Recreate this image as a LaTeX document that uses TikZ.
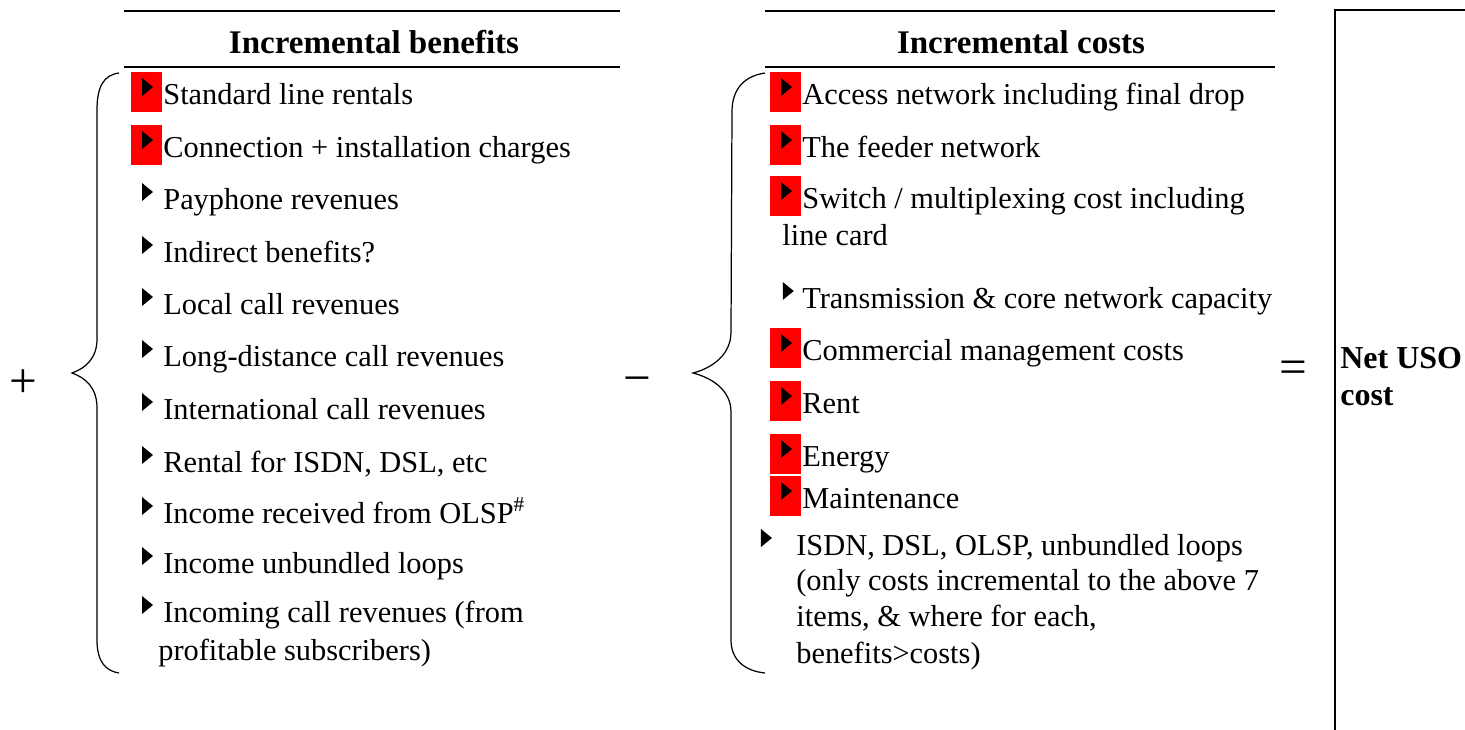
\documentclass[tikz,border=0pt]{standalone}
\usepackage{fontspec}
\setmainfont{Liberation Serif}
\colorlet{bulletRed}{red}
\colorlet{ink}{black}

\begin{document}
\begin{tikzpicture}[
  x=0.02cm,
  y=-0.02cm,
  item/.style={
    anchor=base west,
    inner sep=0pt,
    text=ink,
    font=\fontsize{17.3}{21}\selectfont,
  },
  head/.style={
    inner sep=0pt,
    text=ink,
    font=\bfseries\fontsize{18.8}{22}\selectfont,
  },
  sign/.style={
    inner sep=0pt,
    text=ink,
    font=\fontsize{28}{30}\selectfont,
  },
  rule/.style={
    line width=1.4pt,
    draw=ink,
  },
  brace/.style={
    line width=0.7pt,
    draw=ink,
  },
  bul/.pic={
    \fill[ink] (-21,-26) -- (-10,-17) -- (-21,-8) -- cycle;
  },
  redbul/.pic={
    \fill[bulletRed] (-32,-32) rectangle (-1,8);
    \fill[ink] (-21,-26) -- (-10,-17) -- (-21,-8) -- cycle;
  }
]
\useasboundingbox (0,0) rectangle (1465,730);

\node[head] (hb) at (374,42) {Incremental benefits};
\node[head] (hc) at (1021,42) {Incremental costs};
\draw[rule] (124,11) -- (620,11);
\draw[rule] (124,67) -- (620,67);
\draw[rule] (765,11) -- (1275,11);
\draw[rule] (765,67) -- (1275,67);
\draw[rule] (1465,10) -- (1335,10) -- (1335,730);

\node[sign] (plus) at (23,384) {+};
\node[sign] (minus) at (637,386) {−};
\node[sign] (equals) at (1293,372) {=};

\draw[brace] (119,73) .. controls (104,75) and (97,86) .. (97,110) -- (97,339)
  .. controls (97,358) and (86,368) .. (72,373)
  .. controls (86,378) and (97,388) .. (97,408) -- (97,640)
  .. controls (97,662) and (106,671) .. (119,673);
\draw[brace] (765,73) .. controls (745,76) and (732,88) .. (732,112) -- (731,332)
  .. controls (731,355) and (712,368) .. (693,373)
  .. controls (712,378) and (731,390) .. (731,412) -- (731,640)
  .. controls (731,660) and (745,671) .. (765,673);

\node[item] (b1) at (163,104) {Standard line rentals};
\node[item] (b2) at (163,157) {Connection + installation charges};
\node[item] (b3) at (163,209) {Payphone revenues};
\node[item] (b4) at (163,262) {Indirect benefits?};
\node[item] (b5) at (163,314) {Local call revenues};
\node[item] (b6) at (163,366) {Long-distance call revenues};
\node[item] (b7) at (163,419) {International call revenues};
\node[item] (b8) at (163,472) {Rental for ISDN, DSL, etc};
\node[item] (b9) at (163,523) {Income received from OLSP\textsuperscript{\#}};
\node[item] (b10) at (163,573) {Income unbundled loops};
\node[item] (b11) at (163,622) {Incoming call revenues (from};
\node[item] (b11x) at (158,660) {profitable subscribers)};
\pic at (b1.base west) {redbul};
\pic at (b2.base west) {redbul};
\pic at (b3.base west) {bul};
\pic at (b4.base west) {bul};
\pic at (b5.base west) {bul};
\pic at (b6.base west) {bul};
\pic at (b7.base west) {bul};
\pic at (b8.base west) {bul};
\pic at (b9.base west) {bul};
\pic at (b10.base west) {bul};
\pic at (b11.base west) {bul};

\node[item] (c1) at (802,104) {Access network including final drop};
\node[item] (c2) at (802,157) {The feeder network};
\node[item] (c3) at (802,208) {Switch / multiplexing cost including};
\node[item] (c3x) at (782,245) {line card};
\node[item] (c4) at (802,308) {Transmission \& core network capacity};
\node[item] (c5) at (802,360) {Commercial management costs};
\node[item] (c6) at (802,413) {Rent};
\node[item] (c7) at (802,466) {Energy};
\node[item] (c8) at (802,508) {Maintenance};
\node[item] (c9) at (796,555) {ISDN, DSL, OLSP, unbundled loops};
\node[item] (c9x) at (796,590) {(only costs incremental to the above 7};
\node[item] (c9y) at (796,626) {items, \& where for each,};
\node[item] (c9z) at (796,663) {benefits>costs)};
\pic at (c1.base west) {redbul};
\pic at (c2.base west) {redbul};
\pic at (c3.base west) {redbul};
\pic at ([xshift=1]c4.base west) {bul};
\pic at (c5.base west) {redbul};
\pic at (c6.base west) {redbul};
\pic at (c7.base west) {redbul};
\pic at (c8.base west) {redbul};
\pic at ([xshift=-8]c9.base west) {bul};

\node[head, anchor=base west, font=\bfseries\fontsize{18.2}{22}\selectfont] (net) at (1340,368) {Net USO};
\node[head, anchor=base west, font=\bfseries\fontsize{18.2}{22}\selectfont] (netx) at (1340,405) {cost};
\end{tikzpicture}
\end{document}
